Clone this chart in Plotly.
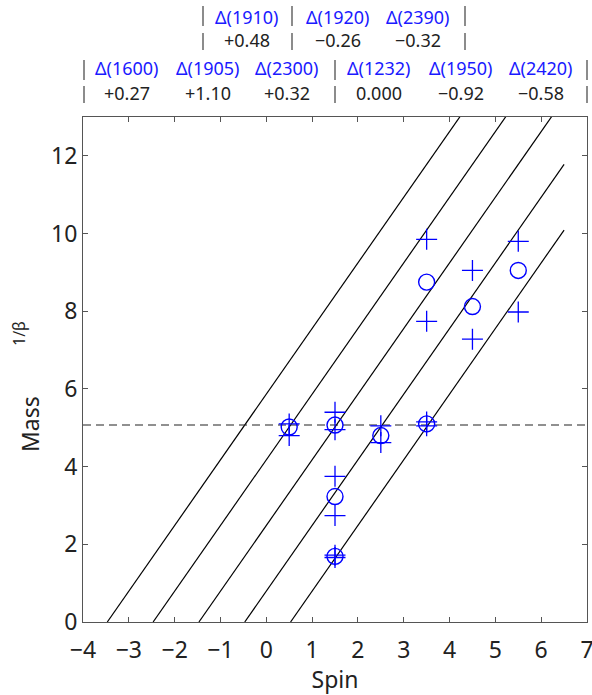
import plotly.graph_objects as go

# ---------------- data ----------------
spin_c = [0.5, 1.5, 2.5, 3.5, 1.5, 1.5, 3.5, 4.5, 5.5]
mass_c = [5.02, 5.07, 4.80, 5.10, 3.23, 1.69, 8.75, 8.12, 9.05]
mass_hi = [5.10, 5.40, 5.05, 5.15, 3.75, 1.72, 9.85, 9.05, 9.80]
mass_lo = [4.80, 4.95, 4.62, 5.05, 2.74, 1.66, 7.74, 7.28, 7.98]

line_x0 = [-3.47, -2.47, -1.47, -0.47, 0.53]   # x-intercepts of trajectories
line_x_end = 6.5
line_slope = 1.69
dashed_y = 5.07

top_names = ["Δ(1910)", "Δ(1920)", "Δ(2390)"]
top_vals = ["+0.48", "−0.26", "−0.32"]
bot_names = ["Δ(1600)", "Δ(1905)", "Δ(2300)", "Δ(1232)", "Δ(1950)", "Δ(2420)"]
bot_vals = ["+0.27", "+1.10", "+0.32", "0.000", "−0.92", "−0.58"]

# ---------------- layout constants (pixels) ----------------
W, H = 592, 695
L, R, T, B = 83, 5, 117, 73
PW, PH = W - L - R, H - T - B

def px(x):
    return (x - L) / PW

def py(y):
    return (H - B - y) / PH

top_x = [247, 338, 418]
bot_x = [127, 208, 287, 379, 461, 541]
top_bars = [203, 292, 465]
bot_bars = [84, 335, 587]
FONT = "Noto Sans"
BLUE = "#0000ff"

fig = go.Figure()

for x0 in line_x0:
    fig.add_trace(go.Scatter(
        x=[x0, line_x_end], y=[0, line_slope * (line_x_end - x0)],
        mode="lines", line=dict(color="black", width=1.2), showlegend=False))

fig.add_trace(go.Scatter(
    x=[-4, 7], y=[dashed_y, dashed_y], mode="lines",
    line=dict(color="#222222", width=1.1, dash="8px,5px"), showlegend=False))

fig.add_trace(go.Scatter(
    x=spin_c + spin_c, y=mass_hi + mass_lo, mode="markers",
    marker=dict(symbol="cross-thin-open", size=15, color=BLUE,
                line=dict(color=BLUE, width=1.3)),
    showlegend=False))
fig.add_trace(go.Scatter(
    x=spin_c, y=mass_c, mode="markers",
    marker=dict(symbol="circle-open", size=16, color=BLUE,
                line=dict(color=BLUE, width=1.4)),
    showlegend=False))

ann = []
for name, val, x in zip(top_names, top_vals, top_x):
    ann.append(dict(x=px(x), y=py(17), text=name, font=dict(color="#1a1aff", size=18)))
    ann.append(dict(x=px(x), y=py(40), text=val, font=dict(color="#222222", size=18)))
for name, val, x in zip(bot_names, bot_vals, bot_x):
    ann.append(dict(x=px(x), y=py(68), text=name, font=dict(color="#1a1aff", size=18)))
    ann.append(dict(x=px(x), y=py(93), text=val, font=dict(color="#222222", size=18)))
for a in ann:
    a.update(xref="paper", yref="paper", showarrow=False, xanchor="center", yanchor="middle")

# y-axis title as rotated annotations
ann.append(dict(x=px(30), y=py(424), xref="paper", yref="paper", showarrow=False,
                text="Mass", textangle=-90, font=dict(size=23, color="#222222"),
                xanchor="center", yanchor="middle"))
ann.append(dict(x=px(19), y=py(334), xref="paper", yref="paper", showarrow=False,
                text="1/β", textangle=-90, font=dict(size=16, color="#222222"),
                xanchor="center", yanchor="middle"))

shapes = []
for x in top_bars:
    for y0, y1 in [(6, 26), (33, 50)]:
        shapes.append(dict(type="line", xref="paper", yref="paper",
                           x0=px(x), x1=px(x), y0=py(y0), y1=py(y1),
                           line=dict(color="#666666", width=1.5)))
for x in bot_bars:
    for y0, y1 in [(60, 80), (86, 103)]:
        shapes.append(dict(type="line", xref="paper", yref="paper",
                           x0=px(x), x1=px(x), y0=py(y0), y1=py(y1),
                           line=dict(color="#666666", width=1.5)))

axis_common = dict(showline=True, linecolor="#555555", linewidth=1.2, mirror="ticks",
                   ticks="inside", ticklen=5, tickcolor="#555555", tickwidth=1.2,
                   showgrid=False, zeroline=False, ticklabeloverflow="allow",
                   automargin=False,
                   tickfont=dict(size=23, color="#222222"))

fig.update_layout(
    width=W, height=H,
    margin=dict(l=L, r=R, t=T, b=B, autoexpand=False),
    plot_bgcolor="white", paper_bgcolor="white",
    font=dict(family=FONT, color="#222222"),
    xaxis=dict(range=[-4, 7], dtick=1, tick0=0, ticklabelstandoff=7,
               title=dict(text="Spin", font=dict(size=23), standoff=1), **axis_common),
    yaxis=dict(range=[0, 13], dtick=2, tick0=0, **axis_common),
    annotations=ann, shapes=shapes,
)

fig.write_html("out.html")
